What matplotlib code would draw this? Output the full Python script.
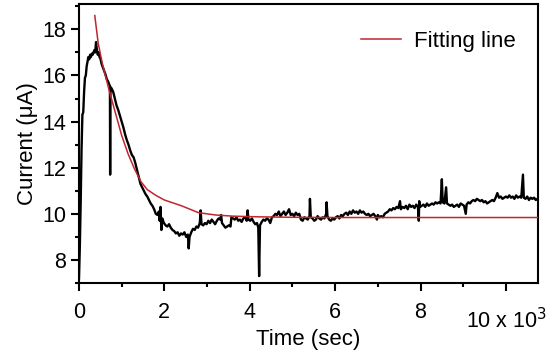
import numpy as np
import matplotlib
matplotlib.use('Agg')
import matplotlib.pyplot as plt
from matplotlib.ticker import MultipleLocator

plt.rcParams['font.family'] = ['Liberation Sans', 'DejaVu Sans']

# measured current (time in 10^3 s, current in uA)
time_k = [
    0.00, 0.02, 0.04, 0.06, 0.07, 0.08, 0.10, 0.12, 0.14, 0.16, 0.18, 0.20, 0.22, 0.24, 0.26, 0.28,
    0.30, 0.32, 0.34, 0.36, 0.38, 0.40, 0.42, 0.44, 0.46, 0.48, 0.50, 0.53, 0.56, 0.59, 0.62, 0.65,
    0.68, 0.71, 0.725, 0.73, 0.735, 0.76, 0.80, 0.84, 0.88, 0.92, 0.96, 1.00, 1.04, 1.08, 1.12, 1.16,
    1.20, 1.24, 1.28, 1.32, 1.36, 1.40, 1.44, 1.48, 1.52, 1.56, 1.60, 1.64, 1.68, 1.72, 1.76, 1.80,
    1.84, 1.87, 1.89, 1.91, 1.93, 1.95, 1.99, 2.03, 2.07, 2.11, 2.15, 2.19, 2.23, 2.27, 2.31, 2.35,
    2.39, 2.43, 2.47, 2.51, 2.55, 2.57, 2.59, 2.63, 2.67, 2.71, 2.75, 2.79, 2.83, 2.85, 2.87, 2.91,
    2.95, 2.99, 3.03, 3.07, 3.11, 3.15, 3.19, 3.23, 3.27, 3.31, 3.33, 3.35, 3.39, 3.43, 3.47, 3.51,
    3.55, 3.57, 3.61, 3.65, 3.69, 3.73, 3.77, 3.81, 3.85, 3.89, 3.93, 3.95, 3.97, 4.01, 4.05, 4.09,
    4.13, 4.17, 4.20, 4.22, 4.24, 4.28, 4.32, 4.36, 4.40, 4.44, 4.48, 4.52, 4.56, 4.60, 4.64, 4.68,
    4.72, 4.76, 4.80, 4.84, 4.88, 4.92, 4.96, 5.00, 5.04, 5.08, 5.12, 5.16, 5.20, 5.24, 5.28, 5.32,
    5.36, 5.40, 5.41, 5.43, 5.47, 5.51, 5.55, 5.59, 5.63, 5.67, 5.71, 5.75, 5.79, 5.80, 5.82, 5.86,
    5.90, 5.94, 5.98, 6.02, 6.06, 6.10, 6.14, 6.18, 6.22, 6.26, 6.30, 6.34, 6.38, 6.42, 6.46, 6.50,
    6.54, 6.58, 6.62, 6.66, 6.70, 6.74, 6.78, 6.82, 6.86, 6.90, 6.94, 6.98, 7.00, 7.04, 7.08, 7.12,
    7.16, 7.20, 7.24, 7.28, 7.32, 7.36, 7.40, 7.44, 7.48, 7.52, 7.54, 7.58, 7.62, 7.66, 7.70, 7.74,
    7.78, 7.82, 7.86, 7.90, 7.94, 7.96, 7.97, 7.99, 8.03, 8.07, 8.11, 8.15, 8.19, 8.23, 8.27, 8.31,
    8.35, 8.39, 8.43, 8.47, 8.50, 8.52, 8.56, 8.60, 8.62, 8.66, 8.70, 8.74, 8.78, 8.82, 8.86, 8.90,
    8.94, 8.98, 9.02, 9.06, 9.08, 9.12, 9.16, 9.20, 9.24, 9.28, 9.32, 9.36, 9.40, 9.44, 9.48, 9.52,
    9.56, 9.60, 9.64, 9.68, 9.72, 9.76, 9.80, 9.84, 9.88, 9.92, 9.96, 10.00, 10.04, 10.08, 10.12, 10.16,
    10.20, 10.24, 10.28, 10.32, 10.36, 10.40, 10.42, 10.46, 10.50, 10.54, 10.58, 10.62, 10.66, 10.70, 10.74,
]
current = [
    7.2, 8.6, 10.5, 12.8, 13.6, 14.3, 14.4, 15.3, 15.9, 16.0, 16.4, 16.6, 16.8, 16.7, 16.9, 16.8,
    16.95, 16.9, 17.0, 17.1, 17.0, 17.45, 17.1, 16.9, 17.0, 16.8, 16.75, 16.5, 16.35, 16.2, 16.05, 15.85,
    15.75, 15.6, 15.55, 11.7, 15.5, 15.45, 15.3, 15.0, 14.7, 14.5, 14.25, 14.0, 13.75, 13.45, 13.2, 13.0,
    12.75, 12.55, 12.45, 12.2, 11.9, 11.6, 11.3, 11.15, 11.0, 10.85, 10.75, 10.6, 10.45, 10.35, 10.2, 10.0,
    9.95, 10.1, 9.7, 10.3, 9.3, 9.8, 9.6, 9.5, 9.45, 9.55, 9.4, 9.3, 9.25, 9.15, 9.2, 9.05,
    9.15, 9.1, 9.2, 9.0, 9.1, 8.5, 9.0, 9.2, 9.35, 9.3, 9.45, 9.4, 9.6, 10.15, 9.55, 9.5,
    9.6, 9.55, 9.7, 9.6, 9.75, 9.65, 9.55, 9.7, 9.8, 9.75, 9.95, 9.6, 9.5, 9.4, 9.45, 9.5,
    9.45, 9.85, 9.8, 9.75, 9.85, 9.7, 9.75, 9.65, 9.8, 9.85, 9.7, 10.15, 9.75, 9.7, 9.8, 9.65,
    9.55, 9.6, 9.4, 7.3, 9.5, 9.65, 9.75, 9.7, 9.8, 9.75, 9.6, 9.85, 9.9, 10.0, 9.95, 10.1,
    9.9, 10.0, 10.1, 9.95, 10.05, 10.2, 9.95, 10.0, 9.9, 10.05, 9.95, 10.0, 9.75, 9.7, 9.85, 9.8,
    9.75, 9.9, 10.65, 9.85, 9.8, 9.7, 9.75, 9.9, 9.8, 9.75, 9.85, 9.8, 10.0, 10.5, 9.9, 9.75,
    9.7, 9.8, 9.75, 9.85, 9.9, 9.8, 9.95, 9.9, 10.0, 10.05, 9.95, 10.1, 10.0, 10.15, 10.05, 10.1,
    10.0, 10.15, 10.05, 10.1, 10.0, 9.95, 10.0, 9.9, 9.95, 10.0, 9.9, 9.75, 9.95, 9.85, 9.9, 9.85,
    10.0, 10.05, 10.1, 10.2, 10.15, 10.25, 10.2, 10.3, 10.25, 10.55, 10.2, 10.3, 10.25, 10.35, 10.2, 10.4,
    10.3, 10.35, 10.25, 10.4, 10.3, 9.7, 10.55, 10.3, 10.35, 10.4, 10.3, 10.45, 10.35, 10.4, 10.45, 10.4,
    10.5, 10.45, 10.5, 10.45, 11.5, 10.5, 10.45, 11.15, 10.45, 10.4, 10.35, 10.4, 10.3, 10.35, 10.4, 10.3,
    10.45, 10.4, 10.35, 10.0, 10.4, 10.5, 10.45, 10.55, 10.6, 10.55, 10.65, 10.6, 10.55, 10.6, 10.5, 10.55,
    10.45, 10.5, 10.55, 10.6, 10.55, 10.7, 10.9, 10.7, 10.75, 10.65, 10.7, 10.75, 10.7, 10.8, 10.7, 10.75,
    10.65, 10.8, 10.7, 10.75, 10.7, 11.7, 10.7, 10.65, 10.75, 10.6, 10.7, 10.65, 10.7, 10.6, 10.65,
]

# fitted curve
fit_time_k = [0.37, 0.45, 0.55, 0.70, 0.85, 1.00, 1.15, 1.30, 1.45, 1.60, 1.80, 2.00,
              2.40, 2.80, 3.20, 3.60, 4.20, 5.00, 6.00, 8.00, 10.75]
fit_current = [18.6, 17.4, 16.5, 15.4, 14.4, 13.4, 12.6, 11.95, 11.4, 11.05, 10.8, 10.6,
               10.35, 10.05, 9.95, 9.9, 9.87, 9.85, 9.84, 9.84, 9.84]

x_ticks = [0, 2, 4, 6, 8, 10]
x_tick_labels = ['0', '2', '4', '6', '8', '']
y_ticks = [8, 10, 12, 14, 16, 18]

fig = plt.figure(figsize=(5.5, 3.55), dpi=100)
ax = fig.add_axes([0.1436, 0.2028, 0.8344, 0.7859])

ax.plot(time_k, current, color='black', lw=1.7, zorder=2)
ax.plot(fit_time_k, fit_current, color='#c0262d', lw=1.1, zorder=3, label='Fitting line')

ax.set_xlim(0, 10.75)
ax.set_ylim(7, 19.1)
ax.set_xticks(x_ticks)
ax.set_xticklabels(x_tick_labels)
ax.xaxis.set_minor_locator(MultipleLocator(1))
ax.set_yticks(y_ticks)
ax.yaxis.set_minor_locator(MultipleLocator(1))

ax.tick_params(which='major', direction='out', length=6, width=1.5, labelsize=15.5, pad=3)
ax.tick_params(axis='x', which='major', pad=8)
ax.tick_params(which='minor', direction='out', length=3, width=1.5)
for s in ax.spines.values():
    s.set_linewidth(1.5)

ax.set_xlabel('Time (sec)', fontsize=16, labelpad=4)
ax.set_ylabel('Current (\u03bcA)', fontsize=16, labelpad=3)
ax.text(1.02, -0.133, '10 x 10$^{3}$', transform=ax.transAxes, fontsize=15.5,
        ha='right', va='center')

ax.legend(loc='upper right', frameon=False, fontsize=16, handlelength=1.8,
          handletextpad=0.6, borderaxespad=0.5, bbox_to_anchor=(0.995, 0.975))

fig.savefig('out.png', dpi=100)
